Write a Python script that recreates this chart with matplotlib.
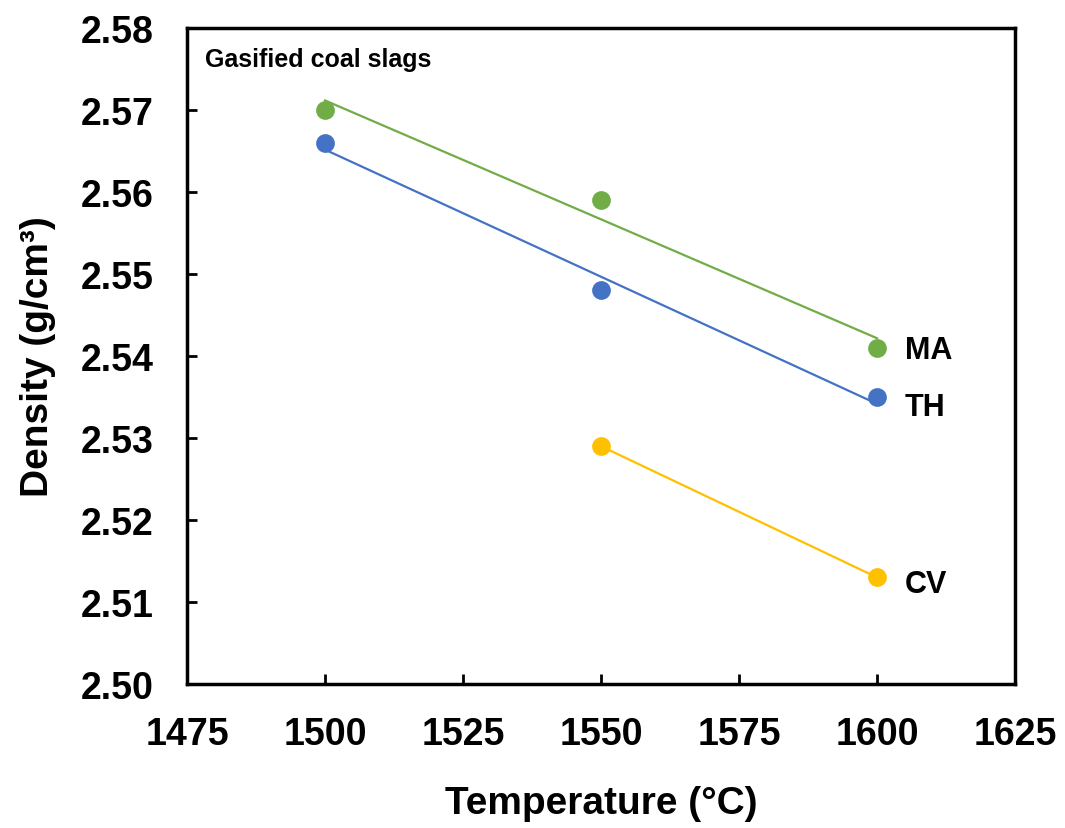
import numpy as np
import matplotlib
matplotlib.use("Agg")
import matplotlib.pyplot as plt

plt.rcParams["font.family"] = ["Liberation Sans", "DejaVu Sans"]
plt.rcParams["font.weight"] = "bold"

# --- data ---
temps_ma = [1500, 1550, 1600]
dens_ma = [2.570, 2.559, 2.541]
temps_th = [1500, 1550, 1600]
dens_th = [2.566, 2.548, 2.535]
temps_cv = [1550, 1600]
dens_cv = [2.529, 2.513]

series = [
    ("MA", temps_ma, dens_ma, "#70AD47", 2.5407),
    ("TH", temps_th, dens_th, "#4472C4", 2.5338),
    ("CV", temps_cv, dens_cv, "#FFC000", 2.5122),
]

fig = plt.figure(figsize=(10.65, 8.29), dpi=100)
ax = fig.add_axes([0.1756, 0.1737, 0.7775, 0.7913])

for name, x, y, color, label_y in series:
    x = np.array(x, dtype=float)
    y = np.array(y)
    # linear trend line, as in the original
    k, b = np.polyfit(x, y, 1)
    ax.plot(x, k * x + b, color=color, lw=1.6, zorder=2)
    ax.plot(x, y, "o", color=color, ms=13.5, mec="none", zorder=3)
    ax.text(x[-1] + 5, label_y, name, fontsize=22, fontweight="bold",
            va="center", ha="left")

ax.set_xlim(1475, 1625)
ax.set_ylim(2.50, 2.58)
ax.set_xticks(np.arange(1475, 1626, 25))
yt = np.arange(2.50, 2.5801, 0.01)
ax.set_yticks(yt)
ax.set_yticklabels([f"{v:.2f}" for v in yt])

ax.tick_params(direction="in", length=7, width=2, labelsize=27)
ax.tick_params(axis="x", pad=23)
ax.tick_params(axis="y", pad=24)
for lab in ax.get_xticklabels() + ax.get_yticklabels():
    lab.set_fontweight("bold")
for sp in ax.spines.values():
    sp.set_linewidth(2.5)

ax.set_xlabel("Temperature (°C)", fontsize=28, fontweight="bold", labelpad=24)
ax.set_ylabel("Density (g/cm³)", fontsize=28, fontweight="bold", labelpad=18)

ax.text(0.0217, 0.971, "Gasified coal slags", transform=ax.transAxes,
        fontsize=18, fontweight="bold", va="top", ha="left")

fig.savefig("out.png", dpi=100)
